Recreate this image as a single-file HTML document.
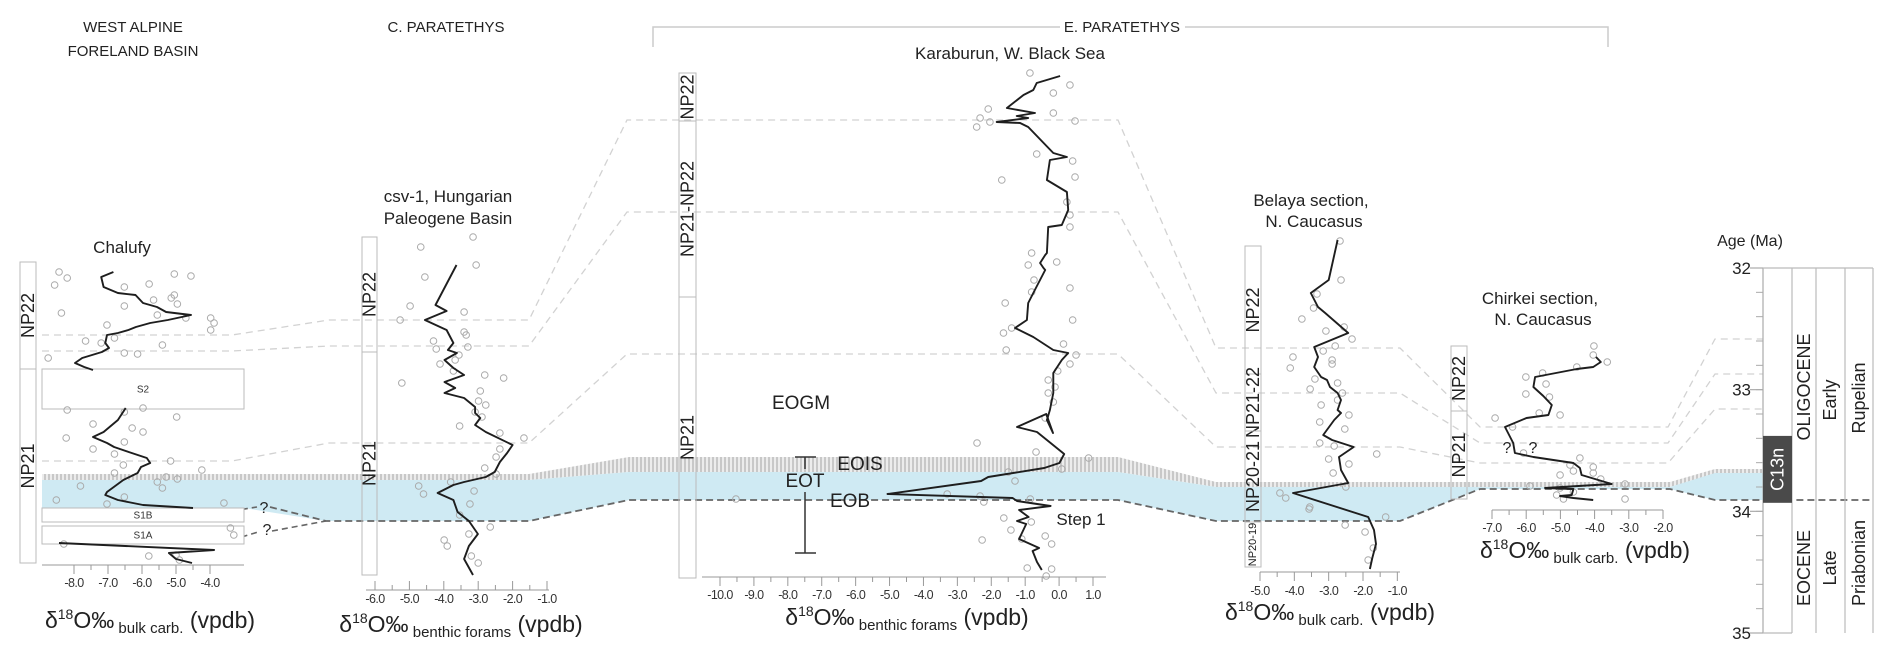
<!DOCTYPE html>
<html><head><meta charset="utf-8"><style>
html,body{margin:0;padding:0;background:#fff;}
svg{display:block;font-family:"Liberation Sans",Arial,sans-serif;}
</style></head><body>
<svg id="fig" width="1892" height="660" viewBox="0 0 1892 660" xmlns="http://www.w3.org/2000/svg">
<defs>
<pattern id="hatch" width="4" height="10" patternUnits="userSpaceOnUse"><rect width="4" height="10" fill="#ececec"/><rect width="2" height="10" fill="#c8c8c8"/></pattern>
</defs>
<g id="bands"></g>
<g id="corr"></g>
<g id="main"></g>
<g id="labels">
<text x="133" y="32" font-size="15" text-anchor="middle" fill="#222">WEST ALPINE</text>
<text x="133" y="56" font-size="15" text-anchor="middle" fill="#222">FORELAND BASIN</text>
<text x="446" y="32" font-size="15" text-anchor="middle" fill="#222">C. PARATETHYS</text>
<path d="M653,47 V27 H1060 M1185,27 H1608 V47" stroke="#ccc" stroke-width="1.5" fill="none"/>
<text x="1122" y="32" font-size="15" text-anchor="middle" fill="#222">E. PARATETHYS</text>
<text x="1010" y="59" font-size="17" text-anchor="middle" fill="#222">Karaburun, W. Black Sea</text>
<text x="122" y="253" font-size="17" text-anchor="middle" fill="#222">Chalufy</text>
<text x="448" y="202" font-size="17" text-anchor="middle" fill="#222">csv-1, Hungarian</text>
<text x="448" y="224" font-size="17" text-anchor="middle" fill="#222">Paleogene Basin</text>
<text x="1311" y="206" font-size="17" text-anchor="middle" fill="#222">Belaya section,</text>
<text x="1314" y="227" font-size="17" text-anchor="middle" fill="#222">N. Caucasus</text>
<text x="1540" y="304" font-size="17" text-anchor="middle" fill="#222">Chirkei section,</text>
<text x="1543" y="325" font-size="17" text-anchor="middle" fill="#222">N. Caucasus</text>
<text x="801" y="409" font-size="19" text-anchor="middle" fill="#222">EOGM</text>
<text x="860" y="470" font-size="19" text-anchor="middle" fill="#222">EOIS</text>
<text x="805" y="487" font-size="19" text-anchor="middle" fill="#222">EOT</text>
<text x="850" y="507" font-size="19" text-anchor="middle" fill="#222">EOB</text>
<text x="1081" y="525" font-size="17" text-anchor="middle" fill="#222">Step 1</text>
<path d="M795,457 H816 M805,457 V469 M805,492 V553 M795,553 H816" stroke="#333" stroke-width="1.5" fill="none"/>
<text x="264" y="513" font-size="16" text-anchor="middle" fill="#222">?</text>
<text x="267" y="535" font-size="16" text-anchor="middle" fill="#222">?</text>
<text x="1507" y="453" font-size="16" text-anchor="middle" fill="#222">?</text>
<text x="1533" y="453" font-size="16" text-anchor="middle" fill="#222">?</text>
</g>
<g id="age"></g>
</svg>
<script>
// ---------- data ----------
const chalufyD18O = [-6.84,-7.2,-7.13,-6.71,-6.19,-5.97,-5.56,-5.29,-4.56,-5.24,-5.76,-6.18,-6.4,-6.71,-7.03,-7.08,-6.97,-7.18,-7.76,-7.97,-7.7,-7.44,null,-6.48,-6.71,-7.13,-7.44,-7.03,-6.82,-6.39,-5.86,-5.76,-6.03,-6.13,-6.55,-7.03,-7.08,-6.71,-5.97,-4.5,null,-8.44,-3.88,-5.21,-5.0,-4.53];
const chalufyLevel = [272,277,287,293,295,303,307,312,315,320,323,327,330,333,335,343,348,352,358,363,367,370,null,408,420,432,437,443,447,452,458,463,467,473,480,492,495,500,505,508,null,543,550,553,559,563];
const chalufyPtD18O = [-8.44,-8.2,-8.57,-8.37,-6.52,-5.79,-5.05,-4.56,-5.14,-5.05,-5.66,-4.96,-5.55,-4.71,-3.98,-3.88,-3.98,-7.03,-6.52,-7.66,-7.2,-6.81,-5.4,-8.76,-6.52,-6.13,-8.2,-5.97,-6.52,-7.44,-8.23,-4.98,-6.29,-5.97,-7.44,-6.52,-6.81,-6.55,-5.16,-4.24,-6.81,-5.29,-5.55,-4.96,-7.81,-5.4,-8.52,-6.52,-7.03,-3.59,-8.3,-5.8,-5.0,-4.9,-3.4,-3.3];
const chalufyPtLevel = [272,278,285,313,287,284,274,276,298,295,300,304,315,318,318,323,330,325,306,341,343,338,345,358,353,354,410,408,412,424,438,417,428,432,449,442,454,465,461,470,473,477,482,479,486,488,500,497,504,503,544,556,555,560,528,535];

const csvD18O = [-3.63,-4.24,-3.92,-4.55,-3.92,-3.72,-3.88,-3.62,-3.98,-3.72,-3.41,-3.98,-3.67,-3.98,-3.41,-3.09,-3.09,-2.94,-3.09,-2.78,-2.0,-2.16,-2.37,-2.52,-2.78,-3.41,-3.72,-4.18,-3.72,-3.6,-3.27,-3.01,-3.27,-3.41,-3.15];
const csvLevel = [265,305,311,320,330,343,350,353,360,368,375,382,388,393,398,407,413,418,425,432,445,453,462,472,477,482,485,493,500,512,521,534,546,559,575];
const csvPtD18O = [-3.15,-4.67,-3.06,-4.55,-4.98,-3.41,-5.27,-3.41,-3.35,-4.3,-4.22,-3.3,-3.56,-4.11,-3.67,-3.72,-2.81,-2.26,-5.22,-2.94,-2.99,-2.78,-3.09,-2.89,-3.54,-2.37,-1.67,-2.37,-2.48,-2.81,-2.48,-3.8,-4.73,-4.59,-3.12,-3.24,-3.54,-3.99,-3.9,-3.27,-3.2,-3.0,-2.65];
const csvPtLevel = [237,247,265,277,306,312,320,332,335,341,349,347,355,364,360,371,375,378,383,391,401,405,412,417,426,433,438,449,457,468,474,482,486,494,491,504,515,540,546,534,556,563,527];

const karaD18O = [0.03,-0.66,-0.76,-1.05,-1.54,-0.71,-1.25,-0.91,-1.84,-1.15,-0.91,-0.17,0.23,-0.27,-0.36,0.23,0.27,0.08,-0.32,-0.36,-0.41,-0.56,-0.46,-0.41,-0.76,-0.91,-0.95,-1.3,-0.76,-0.17,0.27,0.08,-0.17,-0.17,-0.27,-0.36,-0.18,-0.38,-1.24,-0.65,0.15,0.01,-0.44,-2.09,-2.3,-5.06,-1.37,-1.24,-0.25,-1.18,-0.9,-1.24,-0.97,-1.18,-0.59,-0.78,-0.65,-0.51];
const karaLevel = [76,83,90,95,108,113,116,118,122,123,127,153,157,160,180,192,210,225,227,253,255,263,268,270,293,303,320,328,337,350,353,360,373,393,410,420,433,414,427,432,454,463,468,477,481,494,498,501,506,510,517,521,524,539,548,551,562,570];
const karaPtD18O = [-0.86,0.32,-0.17,-2.09,-0.17,-2.33,-2.04,-2.43,0.47,-0.66,0.4,-1.69,0.47,0.23,0.32,0.32,-0.81,-0.91,-0.07,-0.74,-0.81,0.32,-1.59,0.4,-1.64,-1.4,0.13,-1.56,0.5,0.32,-0.04,-0.32,-0.12,-0.32,-0.17,-0.41,-9.53,-2.42,-0.68,0.87,0.08,-1.5,-1.3,-3.3,-2.33,-2.22,-0.85,-1.63,-0.82,-1.42,-0.41,-2.27,-1.1,-0.22,-0.94,-0.22,-0.38];
const karaPtLevel = [73,85,93,109,113,118,122,127,121,154,161,180,177,202,215,227,253,265,262,280,292,288,303,320,333,328,344,350,355,364,371,380,387,393,402,418,499,443,452,458,469,472,481,494,496,502,499,518,522,530,536,540,539,544,568,569,576];

const belD18O = [-2.74,-3.0,-3.52,-3.31,-3.1,-2.43,-3.42,-3.31,-3.42,-3.22,-3.05,-2.96,-2.74,-2.64,-2.74,-2.64,-2.84,-3.16,-2.9,-2.27,-2.7,-2.64,-2.43,-4.04,-1.85,-1.68,-1.62,-1.73,-1.8];
const belLevel = [240,280,293,307,313,333,347,357,367,377,380,387,393,400,410,413,420,435,440,447,457,470,483,493,517,530,544,558,569];
const belPtD18O = [-2.67,-2.64,-3.34,-3.44,-3.78,-2.55,-3.08,-2.32,-2.81,-3.16,-4.04,-2.9,-4.12,-2.9,-3.4,-2.74,-3.54,-2.6,-2.74,-3.22,-2.41,-3.26,-2.53,-3.26,-2.84,-1.6,-3.0,-2.41,-2.87,-2.5,-4.42,-4.25,-3.55,-1.34,-3.57,-2.52,-1.94,-1.7,-1.85];
const belPtLevel = [241,280,294,308,319,327,331,339,346,351,357,360,368,364,379,383,389,393,400,405,415,422,429,443,446,454,459,464,473,487,493,498,507,517,509,525,532,548,560];

const chirD18O = [-3.96,-3.82,-4.04,-4.52,-5.74,-5.79,-5.5,-5.25,-5.35,-5.99,-6.62,-6.38,-6.33,-5.79,-4.62,-4.43,-4.38,-3.5,-5.45,-4.62,-4.67,-5.01,-4.62,-4.04];
const chirLevel = [357,362,367,369,377,387,396,405,415,418,427,443,453,457,463,468,475,484,488,489,495,496,498,500];
const chirPtD18O = [-4.02,-4.04,-3.63,-4.52,-5.52,-6.01,-5.42,-6.01,-5.32,-5.62,-5.01,-6.91,-6.4,-6.08,-4.43,-4.72,-4.04,-4.62,-5.01,-4.04,-3.82,-3.11,-5.89,-5.01,-4.62,-5.11,-4.91,-3.11];
const chirPtLevel = [346,355,362,367,373,377,384,394,397,413,415,418,427,453,458,465,467,471,475,473,479,484,486,488,492,495,499,499];

const ageTicks = [32,33,34,35];
const ageUnits = ["OLIGOCENE","Early","Rupelian","EOCENE","Late","Priabonian"];

// ---------- helpers ----------
const NS="http://www.w3.org/2000/svg";
function mk(tag,attrs,parent){const e=document.createElementNS(NS,tag);for(const k in attrs)e.setAttribute(k,attrs[k]);(parent||document.getElementById('main')).appendChild(e);return e;}
function linScale(d0,d1,r0,r1){return v=>r0+(v-d0)*(r1-r0)/(d1-d0);}

const sections=[
 {id:'chalufy',xs:linScale(-8,-4,74,210),ys:linScale(0,1000,0,1000),vals:chalufyD18O,lev:chalufyLevel,pv:chalufyPtD18O,pl:chalufyPtLevel,
  col:[20,36],zones:[["NP22",262,369],["NP21",369,563]],axis:{y:565,lo:42,hi:244,t0:-8,t1:-4,lab:583},title:{x:150,y:628,sub:"bulk carb."}},
 {id:'csv1',xs:linScale(-6,-1,375,547),ys:linScale(0,1000,0,1000),vals:csvD18O,lev:csvLevel,pv:csvPtD18O,pl:csvPtLevel,
  col:[362,377],zones:[["NP22",237,352],["NP21",352,575]],axis:{y:590,lo:366,hi:549,t0:-6,t1:-1,lab:599,up:true},title:{x:461,y:632,sub:"benthic forams"}},
 {id:'karaburun',xs:linScale(-10,1,720,1093),ys:linScale(0,1000,0,1000),vals:karaD18O,lev:karaLevel,pv:karaPtD18O,pl:karaPtLevel,
  col:[679,696],zones:[["NP22",73,121],["NP21-NP22",121,297],["NP21",297,578]],axis:{y:577,lo:702,hi:1106,t0:-10,t1:1,lab:595},title:{x:907,y:625,sub:"benthic forams"}},
 {id:'belaya',xs:linScale(-5,-2,1260,1363),ys:linScale(0,1000,0,1000),vals:belD18O,lev:belLevel,pv:belPtD18O,pl:belPtLevel,
  col:[1245,1261],zones:[["NP22",246,374],["NP21-22",374,431],["NP20-21",431,522],["NP20-19",522,567,11]],axis:{y:572,lo:1260,hi:1400,t0:-5,t1:-1,lab:591},title:{x:1330,y:620,sub:"bulk carb."}},
 {id:'chirkei',xs:linScale(-7,-2,1492,1663),ys:linScale(0,1000,0,1000),vals:chirD18O,lev:chirLevel,pv:chirPtD18O,pl:chirPtLevel,
  col:[1451,1467],zones:[["NP22",346,411],["NP21",411,499]],axis:{y:510,lo:1492,hi:1663,t0:-7,t1:-2,lab:528},title:{x:1585,y:558,sub:"bulk carb."}}
];

// ---------- bands ----------
const bands=document.getElementById('bands');
const gray=mk('path',{d:"M42,474 H529 L629,457 H1118 L1216,482 H1670 L1715,469 H1763 V474 H1715 L1670,487 H1216 L1118,472 H629 L529,480 H42 Z",fill:"url(#hatch)"},bands);


const blue=mk('path',{d:"M42,480 H529 L629,472 H1118 L1216,487 H1670 L1715,473 H1763 V500 H1715 L1670,489 H1480 L1400,521 H1216 L1118,500 H629 L529,521 H326 L244,508 H42 Z",fill:"#cfeaf3"},bands);



// ---------- correlation lines ----------
const corr=document.getElementById('corr');
const corrPaths=[
 "M42,335 H232 L329,320 H529 L627,120 H1118 L1216,348 H1400 L1480,427 H1668 L1715,339 H1763",
 "M42,351 H232 L329,346 H529 L627,212 H1118 L1216,393 H1400 L1480,443 H1668 L1715,374 H1763",
 "M42,461 H232 L329,443 H529 L627,354 H1118 L1216,447 H1400 L1480,463 H1668 L1715,409 H1763"];
corrPaths.forEach((d,i)=>{const p=mk('path',{d:d,stroke:"#d2d2d2","stroke-width":1.3,fill:"none","stroke-dasharray":"7 5"},corr);
 
 });
const eob=mk('path',{d:"M270,507 L326,521 H529 L629,500 H1118 L1216,521 H1400 L1480,489 H1670 L1715,500 H1873",stroke:"#666","stroke-width":1.8,fill:"none","stroke-dasharray":"7 4"},corr);


const q1=mk('path',{d:"M232,511 L257,507 M272,531 L326,521 M232,540 L258,532",stroke:"#666","stroke-width":1.6,fill:"none","stroke-dasharray":"6 4"},corr);



// Chalufy sample boxes
[["S2",369,409],["S1B",508,522],["S1A",526,544]].forEach(b=>{
 const r=mk('rect',{x:42,y:b[1],width:202,height:b[2]-b[1],fill:"#fff",stroke:"#bbb","stroke-width":1});
 
 
 const t=mk('text',{x:143,y:(b[1]+b[2])/2+3.5,"font-size":10,"text-anchor":"middle",fill:"#333"});t.textContent=b[0];
 
 
});

// ---------- sections ----------
sections.forEach(s=>{
 const g=mk('g',{});
 
 
 s.zones.forEach(z=>{
  const r=mk('rect',{x:s.col[0],y:z[1],width:s.col[1]-s.col[0],height:z[2]-z[1],fill:"none",stroke:"#bbb","stroke-width":1},g);
  
  
  const cx=(s.col[0]+s.col[1])/2, cy=(z[1]+z[2])/2, fs=z[3]||18;
  const t=mk('text',{x:cx,y:cy,"font-size":fs,"text-anchor":"middle","dominant-baseline":"central",fill:"#222",transform:`rotate(-90 ${cx} ${cy})`},g);
  t.textContent=z[0];
  
  
 });
 s.pv.forEach((v,i)=>{
  const c=mk('circle',{cx:s.xs(v),cy:s.ys(s.pl[i]),r:3.3,fill:"none",stroke:"#aaa","stroke-width":1},g);
  
  
 });
 let d="",pen=false;
 s.vals.forEach((v,i)=>{
  if(v===null){pen=false;return;}
  d+=(pen?"L":"M")+s.xs(v).toFixed(1)+","+s.ys(s.lev[i]).toFixed(1)+" ";pen=true;
 });
 const p=mk('path',{d:d,stroke:"#1e1e1e","stroke-width":1.9,fill:"none","stroke-linejoin":"round"},g);
 
 
 const a=s.axis;
 const al=mk('line',{x1:a.lo,x2:a.hi,y1:a.y,y2:a.y,stroke:"#999","stroke-width":1},g);
 
 
 for(let v=a.t0;v<=a.t1+0.001;v+=0.5){
  const x=s.xs(v), major=Math.abs(v-Math.round(v))<0.01;
  const len=major?9:5;
  const tk=mk('line',{x1:x,x2:x,y1:a.up?a.y-len:a.y,y2:a.up?a.y:a.y+len,stroke:"#999","stroke-width":1},g);
  
  
  if(major){
   const t=mk('text',{x:x,y:a.lab+4,"font-size":12.5,"text-anchor":"middle",fill:"#333","letter-spacing":"-0.6"},g);
   t.textContent=v.toFixed(1);
   
   
  }
 }
 const tt=mk('text',{x:s.title.x,y:s.title.y,"text-anchor":"middle",fill:"#222","font-size":23},g);
 
 
 tt.innerHTML=`δ<tspan font-size="14" dy="-9">18</tspan><tspan dy="9">O‰</tspan><tspan font-size="15" dy="5"> ${s.title.sub}</tspan><tspan dy="-5"> (vpdb)</tspan>`;
});

// ---------- age column ----------
const ag=document.getElementById('age');
const ageY=linScale(32,35,268,633);
const lab=mk('text',{x:1750,y:246,"font-size":16,"text-anchor":"middle",fill:"#222"},ag);
lab.textContent="Age (Ma)";


const ax=mk('line',{x1:1763,x2:1763,y1:ageY(32),y2:ageY(35),stroke:"#aaa","stroke-width":1.2},ag);


for(let v=32;v<=35.001;v+=0.2){
 const y=ageY(v);
 const tk=mk('line',{x1:1756,x2:1763,y1:y,y2:y,stroke:"#aaa","stroke-width":1},ag);
 
 
}
ageTicks.forEach(v=>{
 const y=ageY(v);
 const tk=mk('line',{x1:1750,x2:1763,y1:y,y2:y,stroke:"#aaa","stroke-width":1.2},ag);
 
 
 const t=mk('text',{x:1751,y:y+6,"font-size":17,"text-anchor":"end",fill:"#222"},ag);
 t.textContent=String(v);
 
 
});
[1792,1816,1845,1873].forEach(x=>{
 const l=mk('line',{x1:x,x2:x,y1:ageY(32),y2:ageY(35),stroke:"#bbb","stroke-width":1.2},ag);
 
 
});
const topL=mk('line',{x1:1763,x2:1873,y1:ageY(32),y2:ageY(32),stroke:"#bbb","stroke-width":1.2},ag);


const botL=mk('line',{x1:1763,x2:1792,y1:ageY(35),y2:ageY(35),stroke:"#bbb","stroke-width":1.2},ag);


const c13=mk('rect',{x:1763,y:ageY(33.38),width:29,height:ageY(33.93)-ageY(33.38),fill:"#4a4a4a"},ag);


function vtext(str,cx,cy,fs,fill,name){
 const t=mk('text',{x:cx,y:cy,"font-size":fs,"text-anchor":"middle","dominant-baseline":"central",fill:fill,transform:`rotate(-90 ${cx} ${cy})`},ag);
 t.textContent=str;
 
 
}
vtext("C13n",1777.5,(ageY(33.38)+ageY(33.93))/2,18,"#fff","chron-label");
vtext(ageUnits[0],1804,387,18,"#222","epoch-oligocene");
vtext(ageUnits[1],1830,400,18,"#222","subepoch-early");
vtext(ageUnits[2],1859,398,18,"#222","stage-rupelian");
vtext(ageUnits[3],1804,568,18,"#222","epoch-eocene");
vtext(ageUnits[4],1830,568,18,"#222","subepoch-late");
vtext(ageUnits[5],1859,563,18,"#222","stage-priabonian");
</script>
</body></html>
